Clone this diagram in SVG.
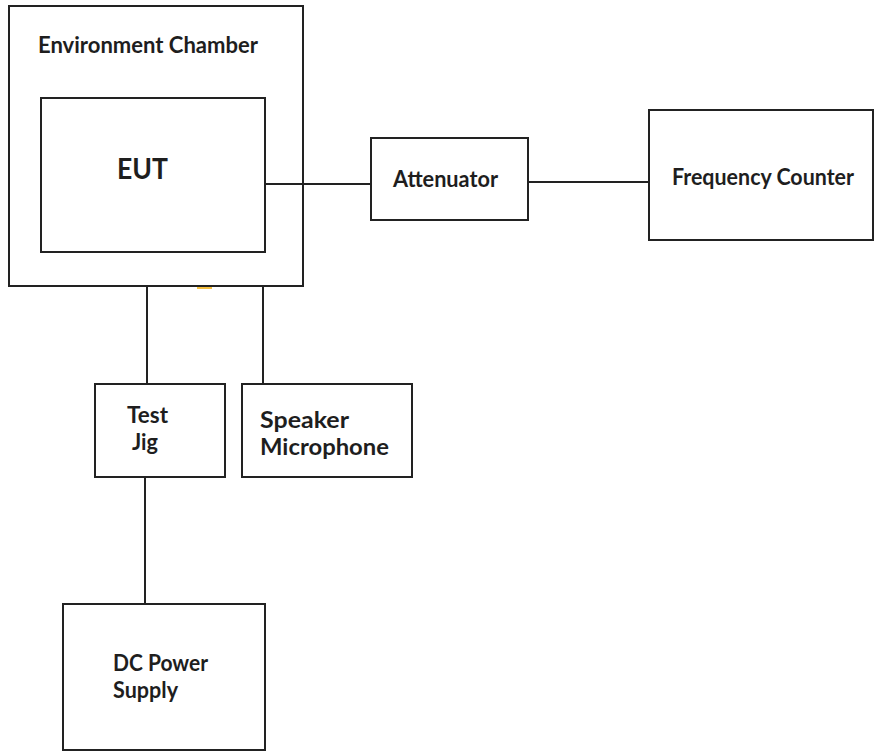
<svg xmlns="http://www.w3.org/2000/svg" width="874" height="753" viewBox="0 0 874 753">
<style>
.box{fill:#fff;stroke:#222;stroke-width:2}
.ln{stroke:#222;stroke-width:2;fill:none}
.t{font-family:Lato,"Open Sans","Liberation Sans",sans-serif;font-weight:bold;font-size:22px;fill:#1e1e1e}
.big{font-size:28px}
</style>
<rect width="874" height="753" fill="#fff"/>
<g id="chamber">
<rect class="box" x="9" y="6" width="294" height="280"/>
<text class="t" x="38" y="53" textLength="220" lengthAdjust="spacingAndGlyphs">Environment Chamber</text>
</g>
<g id="eut">
<rect class="box" x="41" y="98" width="224" height="154"/>
<text class="t big" x="117" y="179" textLength="51" lengthAdjust="spacingAndGlyphs">EUT</text>
</g>
<g id="attenuator">
<rect class="box" x="371" y="138" width="157" height="82"/>
<text class="t" x="393" y="187" textLength="105" lengthAdjust="spacingAndGlyphs">Attenuator</text>
</g>
<g id="frequency-counter">
<rect class="box" x="649" y="110" width="224" height="130"/>
<text class="t" x="672" y="185" textLength="182" lengthAdjust="spacingAndGlyphs">Frequency Counter</text>
</g>
<g id="test-jig">
<rect class="box" x="95" y="384" width="130" height="93"/>
<text class="t" x="127" y="423" textLength="41" lengthAdjust="spacingAndGlyphs">Test</text>
<text class="t" x="132" y="450" textLength="26" lengthAdjust="spacingAndGlyphs">Jig</text>
</g>
<g id="speaker-microphone">
<rect class="box" x="242" y="384" width="170" height="93"/>
<text class="t" x="260" y="428" textLength="89" lengthAdjust="spacingAndGlyphs">Speaker</text>
<text class="t" x="260" y="455" textLength="129" lengthAdjust="spacingAndGlyphs">Microphone</text>
</g>
<g id="dc-power-supply">
<rect class="box" x="63" y="604" width="202" height="146"/>
<text class="t" x="113" y="671" textLength="95" lengthAdjust="spacingAndGlyphs">DC Power</text>
<text class="t" x="113" y="698" textLength="65" lengthAdjust="spacingAndGlyphs">Supply</text>
</g>
<g id="connectors">
<line class="ln" x1="265" y1="184" x2="371" y2="184"/>
<line class="ln" x1="528" y1="182" x2="649" y2="182"/>
<line class="ln" x1="147" y1="286" x2="147" y2="384"/>
<line class="ln" x1="263" y1="286" x2="263" y2="384"/>
<line class="ln" x1="145" y1="477" x2="145" y2="604"/>
</g>
<line x1="197" y1="288" x2="212" y2="288" stroke="#f5c040" stroke-width="2"/>
</svg>
